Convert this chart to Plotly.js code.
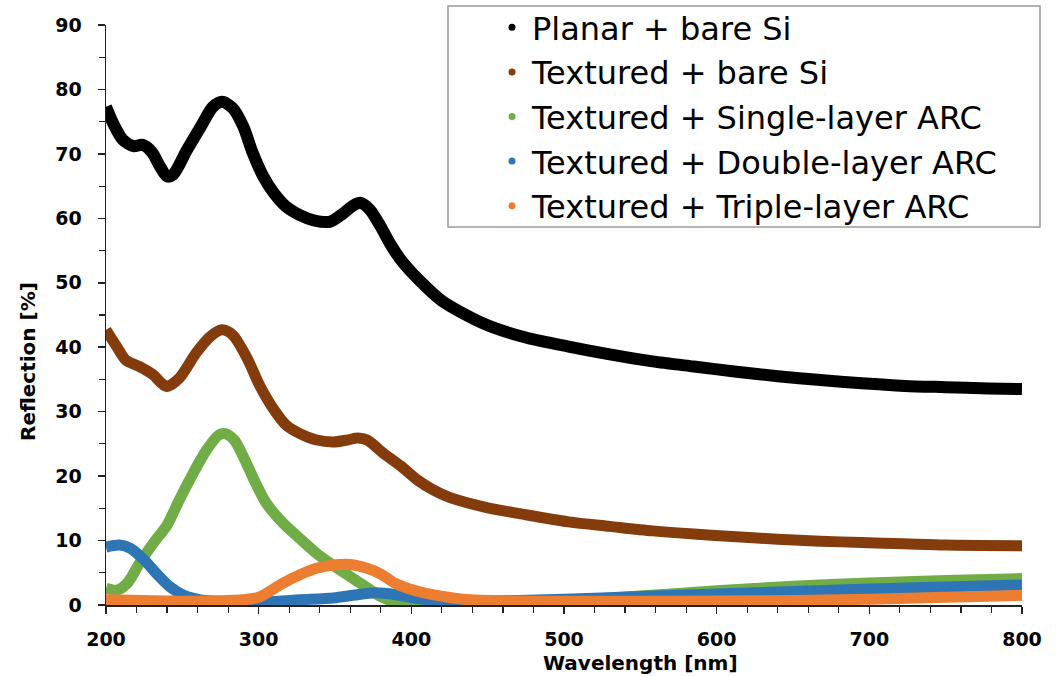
<!DOCTYPE html>
<html>
<head>
<meta charset="utf-8">
<script src="https://cdn.plot.ly/plotly-3.0.1.min.js"></script>
<style>html,body{margin:0;padding:0;background:#fff;}#chart{width:1057px;height:676px;}</style>
</head>
<body>
<div id="chart"></div>
<script>
// Series names
const seriesNames = [
  "Planar + bare Si",
  "Textured + bare Si",
  "Textured + Single-layer ARC",
  "Textured + Double-layer ARC",
  "Textured + Triple-layer ARC"
];
const seriesColors = ["#000000", "#843C0C", "#70AD47", "#2E75B6", "#ED7D31"];

// Planar + bare Si
const wlPlanar = [200,205,211,218,224,230,235,240,244,253,262,270,276,283,290,296,303,310,318,327,336,347,355,362,367,373,380,386,393,406,420,448,475,503,530,558,585,613,640,668,695,723,750,778,800];
const rPlanar  = [77.3,74.6,72.2,71.2,71.4,70.3,68.2,66.5,66.8,70.6,74.2,77.3,78.1,77.1,74.2,70.2,66.5,63.9,61.8,60.5,59.7,59.5,60.7,62.0,62.4,61.3,58.7,56.1,53.6,50.2,47.2,43.6,41.5,40.1,38.9,37.8,37.0,36.2,35.5,34.9,34.4,34.0,33.8,33.6,33.5];

// Textured + bare Si
const wlTextured = [200,207,213,222,231,236,240,248,259,268,276,283,292,301,310,318,327,338,349,358,365,371,382,393,404,414,425,448,475,503,530,558,585,613,640,668,695,723,750,800];
const rTextured  = [42.7,40.1,38.0,37.0,35.7,34.5,33.9,35.2,39.1,41.6,42.7,41.9,38.5,33.9,30.3,27.9,26.6,25.6,25.3,25.6,25.9,25.6,23.5,21.6,19.4,17.9,16.7,15.2,14.0,12.9,12.2,11.5,11.0,10.6,10.2,9.9,9.7,9.5,9.3,9.2];

// Textured + Single-layer ARC
const wlSingle = [200,207,214,222,231,240,248,257,266,274,278,284,290,297,305,316,327,338,348,360,369,380,392,420,450,500,550,600,650,700,750,800];
const rSingle  = [2.6,2.3,3.4,6.5,9.6,12.4,16.3,20.4,24.1,26.4,26.6,25.6,23.0,19.4,15.8,12.7,10.3,8.0,6.3,4.4,3.0,1.3,0.3,0.1,0.2,0.6,1.4,2.2,2.9,3.4,3.8,4.1];

// Textured + Double-layer ARC
const wlDouble = [200,209,216,225,233,242,251,262,283,305,327,349,362,376,390,404,425,450,500,550,600,650,700,750,800];
const rDouble  = [9.0,9.3,8.8,7.0,4.9,2.8,1.5,0.8,0.5,0.5,0.8,1.1,1.5,1.9,1.6,1.0,0.6,0.6,0.9,1.3,1.7,2.1,2.5,2.8,3.1];

// Textured + Triple-layer ARC
const wlTriple = [200,250,290,300,305,316,327,338,349,360,371,380,390,403,414,434,478,550,650,700,750,800];
const rTriple  = [0.8,0.6,0.8,1.2,1.8,3.4,4.7,5.7,6.2,6.3,5.7,4.8,3.3,2.2,1.6,0.9,0.6,0.6,0.7,0.9,1.2,1.5];

// Axis tick values
const xTicks = [200,300,400,500,600,700,800];
const yTicks = [0,10,20,30,40,50,60,70,80,90];
const xTitle = "Wavelength [nm]";
const yTitle = "Reflection [%]";

const xs = [wlPlanar, wlTextured, wlSingle, wlDouble, wlTriple];
const ys = [rPlanar, rTextured, rSingle, rDouble, rTriple];
const widths = [12, 11, 11, 11, 11];

const traces = [];
for (let i = 0; i < 5; i++) {
  traces.push({
    x: xs[i], y: ys[i], type: "scatter", mode: "lines",
    line: {color: seriesColors[i], width: widths[i], shape: "spline", smoothing: 0.8},
    showlegend: false, hoverinfo: "skip", name: seriesNames[i]
  });
}
for (let i = 0; i < 5; i++) {
  traces.push({
    x: [null], y: [null], type: "scatter", mode: "markers",
    marker: {color: seriesColors[i], size: 7},
    name: seriesNames[i], showlegend: true, legendgroup: "g" + i
  });
}

const L = 106, R = 35, T = 25, B = 71;
const PW = 1057 - L - R, PH = 676 - T - B;
const px = v => (v - L) / PW;
const py = v => 1 - (v - T) / PH;

const FONT = "DejaVu Sans, Liberation Sans, Arial, sans-serif";
const tickFont = {family: FONT, size: 19, color: "#000", weight: "bold"};

const layout = {
  width: 1057, height: 676,
  margin: {l: L, r: R, t: T, b: B, pad: 0, autoexpand: false},
  paper_bgcolor: "#fff", plot_bgcolor: "#fff",
  showlegend: true,
  legend: {
    x: px(492), y: py(0), xanchor: "left", yanchor: "top",
    bgcolor: "rgba(0,0,0,0)", borderwidth: 0,
    font: {family: FONT, size: 32, color: "#000"},
    itemwidth: 30, tracegroupgap: 0, traceorder: "grouped"
  },
  xaxis: {
    range: [200, 800], tickmode: "array", tickvals: xTicks, ticktext: xTicks.map(String),
    showline: true, linecolor: "#222", linewidth: 1.5, mirror: false,
    ticks: "outside", ticklen: 7, tickwidth: 1.5, tickcolor: "#222",
    minor: {ticks: "outside", dtick: 20, ticklen: 6, tickwidth: 1.2, tickcolor: "#222", showgrid: false},
    showgrid: false, zeroline: false, tickfont: tickFont, ticklabelstandoff: 10
  },
  yaxis: {
    range: [0, 90], tickmode: "array", tickvals: yTicks, ticktext: yTicks.map(String),
    showline: true, linecolor: "#222", linewidth: 1.5, mirror: false,
    ticks: "outside", ticklen: 7, tickwidth: 1.5, tickcolor: "#222",
    minor: {ticks: "outside", dtick: 5, ticklen: 6, tickwidth: 1.2, tickcolor: "#222", showgrid: false},
    showgrid: false, zeroline: false, tickfont: tickFont, ticklabelstandoff: 12
  },
  shapes: [{
    type: "rect", xref: "paper", yref: "paper", layer: "above",
    x0: px(448), x1: px(1040), y0: py(227), y1: py(6),
    line: {color: "#9a9a9a", width: 1.5}, fillcolor: "rgba(255,255,255,1)"
  }],
  annotations: [
    {text: xTitle, xref: "paper", yref: "paper", x: px(640), y: py(663), xanchor: "center", yanchor: "middle",
     showarrow: false, font: {family: FONT, size: 20, color: "#000", weight: "bold"}},
    {text: yTitle, xref: "paper", yref: "paper", x: px(28), y: py(362), xanchor: "center", yanchor: "middle",
     textangle: -90, showarrow: false, font: {family: FONT, size: 20, color: "#000", weight: "bold"}}
  ]
};

Plotly.newPlot("chart", traces, layout, {displayModeBar: false, staticPlot: true});
</script>
</body>
</html>
